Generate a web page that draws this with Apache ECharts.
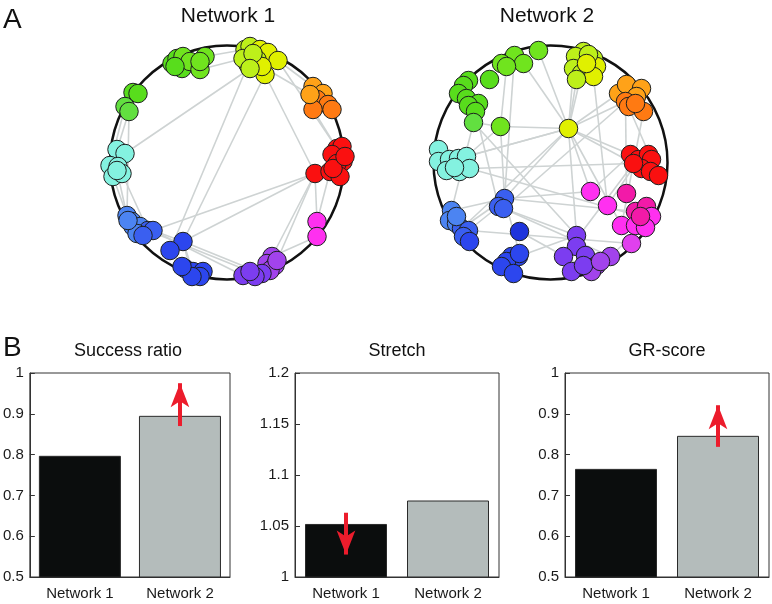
<!DOCTYPE html>
<html><head><meta charset="utf-8">
<script src="https://cdn.jsdelivr.net/npm/echarts@6/dist/echarts.min.js"></script>
<style>html,body{margin:0;padding:0;background:#fff}#c{width:772px;height:604px}</style>
</head><body><div id="c"></div>
<script>
const FONT = '"Liberation Sans", Arial, Helvetica, sans-serif';

// ---------- Panel A data (layout units, circle radius = 117, origin = circle centre) ----------
const networkTitles = ['Network 1', 'Network 2'];
const groupColors = ['#58dd1c','#70e41e','#bdf01a','#e0f000','#ffa218','#ff7a12','#fa1010','#ff30f0',
  '#f21aa8','#a243ec','#7c3df0','#2c46ee','#4c84f2','#84f2e0','#62df40','#3a5ff0','#e040ee','#1e34dc'];

const net1Nodes = [
  [-55,99,0],[-50,104,0],[-44,106,1],[-45,94,0],[-37,101,1],[-27,93,1],[-22,106,1],[-27,101,1],[-52,96,0],
  [18,113,2],[23,116,2],[33,113,3],[41,110,3],[51,102,3],[38,88,3],[21,98,2],[16,104,2],[30,103,2],[35,96,3],[26,109,2],[23,94,2],
  [86,76,4],[96,69,4],[90,63,5],[101,58,5],[86,53,5],[105,53,5],[83,68,4],
  [88,-11,6],[110,14,6],[115,16,6],[105,8,6],[116,1,6],[110,-1,6],[103,-9,6],[113,-14,6],[106,-6,6],[118,6,6],
  [90,-59,7],[90,-74,7],
  [45,-94,9],[40,-101,9],[48,-103,9],[43,-108,9],[35,-111,10],[16,-113,10],[28,-114,10],[23,-109,10],[50,-98,9],
  [-42,-106,11],[-34,-109,11],[-24,-109,11],[-27,-114,11],[-35,-114,11],[-45,-104,11],
  [-44,-79,11],[-57,-88,11],
  [-100,-53,12],[-95,-59,12],[-94,-64,12],[-87,-64,12],[-79,-68,15],[-74,-68,15],[-90,-71,12],[-84,-73,15],[-99,-58,12],
  [-110,13,13],[-102,9,13],[-117,-3,13],[-109,-4,13],[-114,-14,13],[-105,-11,13],[-110,-8,13],
  [-94,70,0],[-89,69,0],[-102,56,14],[-98,51,14]
];
const net1Edges = [
  [20,67],[14,55],[15,56],[14,28],[13,29],[13,21],[18,27],[5,16],[6,9],[76,66],[75,68],[70,57],[72,65],
  [28,62],[28,55],[28,40],[28,38],[34,38],[25,29],[62,45],[61,47],[55,44],[56,49],[55,50],[39,40],[48,28],
  [71,61],[76,57],[62,55],[55,53]
];

const net2Nodes = [
  [-12,112,1],[-36,107,1],[-27,99,1],[-49,99,1],[-44,96,1],[-61,83,0],[-82,82,0],[-87,77,0],[-92,69,0],[-84,64,0],
  [-72,59,0],[-82,57,0],[-75,51,0],[-77,40,14],[-50,36,1],
  [33,111,2],[25,106,2],[43,104,2],[46,96,3],[23,94,2],[31,89,2],[43,86,3],[26,83,2],[38,108,2],[36,99,3],
  [18,34,3],
  [68,69,4],[76,78,4],[91,74,4],[86,66,4],[75,61,5],[78,56,5],[93,51,5],[85,59,5],
  [80,8,6],[88,3,6],[98,8,6],[101,3,6],[91,-6,6],[100,-9,6],[108,-13,6],[83,-1,6],
  [40,-29,7],[57,-43,7],[76,-31,8],[85,-49,8],[96,-44,8],[101,-54,7],[71,-63,7],[85,-63,7],[95,-65,7],[90,-54,8],[81,-81,16],
  [26,-73,10],[26,-84,10],[35,-93,10],[13,-94,10],[60,-94,9],[46,-103,9],[21,-109,10],[41,-109,9],[33,-103,10],[50,-99,9],
  [-39,-94,11],[-32,-94,11],[-44,-99,11],[-49,-104,11],[-37,-111,11],[-31,-91,11],
  [-31,-69,17],
  [-46,-36,15],[-52,-44,15],[-47,-46,15],
  [-99,-48,12],[-101,-58,12],[-94,-61,12],[-89,-66,15],[-82,-68,15],[-87,-74,15],[-81,-79,11],[-94,-54,12],
  [-112,13,13],[-112,1,13],[-101,3,13],[-104,-8,13],[-92,4,13],[-84,6,13],[-91,-9,13],[-81,-6,13],[-96,-5,13]
];
const net2Edges = [
  [25,14],[25,0],[25,22],[25,19],[25,20],[25,26],[25,30],[25,34],[25,41],[25,42],[25,53],[25,70],[25,86],[25,76],[25,48],
  [14,13],[14,70],[14,86],[4,14],[2,25],[1,70],[12,71],[88,41],[85,25],[73,70],[76,70],[77,71],[70,45],[70,42],[72,57],
  [71,53],[69,60],[64,53],[68,70],[42,34],[43,35],[44,30],[48,32],[53,13],[31,37],[21,43],[30,72],[13,73],[88,51],
  [77,52],[56,41],[57,47]
];

// ---------- Panel B data ----------
const barCategories = ['Network 1', 'Network 2'];
const chartTitles = ['Success ratio', 'Stretch', 'GR-score'];
const successRatio = [0.797, 0.895];
const stretchValues = [1.052, 1.075];
const grScore = [0.765, 0.846];
const successAxis = [0.5, 1, 0.1];
const stretchAxis = [1, 1.2, 0.05];
const grAxis = [0.5, 1, 0.1];
// red arrows: [category, tail value, tip value]
const successArrow = ['Network 2', 0.870, 0.975];
const stretchArrow = ['Network 1', 1.063, 1.022];
const grArrow = ['Network 2', 0.819, 0.921];

// ---------- build ----------
const barColors = ['#0b0d0d', '#b4bcbb'];
const chart = echarts.init(document.getElementById('c'), null, {renderer: 'canvas'});

const netCenters = [[227, 162.5], [550.5, 162.5]];
const half = 130;
const grids = [], xAxes = [], yAxes = [], series = [];
netCenters.forEach((c, i) => {
  grids.push({left: c[0] - half, top: c[1] - half, width: 2 * half, height: 2 * half, show: false});
  xAxes.push({type: 'value', gridIndex: i, min: -half, max: half, show: false});
  yAxes.push({type: 'value', gridIndex: i, min: -half, max: half, show: false});
});
[[net1Nodes, net1Edges], [net2Nodes, net2Edges]].forEach(([nodes, edges], i) => {
  series.push({
    type: 'lines', coordinateSystem: 'cartesian2d', xAxisIndex: i, yAxisIndex: i, silent: true, z: 1,
    lineStyle: {color: '#ced3d3', width: 1.6, opacity: 1},
    data: edges.map(([a, b]) => ({coords: [nodes[a].slice(0, 2), nodes[b].slice(0, 2)]}))
  });
  series.push({
    type: 'scatter', xAxisIndex: i, yAxisIndex: i, symbolSize: 18.5, z: 3, silent: true,
    itemStyle: {color: p => groupColors[p.data[2]], borderColor: '#1c1f1f', borderWidth: 1, opacity: 1},
    data: nodes
  });
});

const barSpecs = [
  [successRatio, successAxis, successArrow, 26],
  [stretchValues, stretchAxis, stretchArrow, 295],
  [grScore, grAxis, grArrow, 565]
];
barSpecs.forEach(([vals, ax, arrow, left], k) => {
  const gi = 2 + k;
  grids.push({left: left, top: 373, width: 204, height: 204, show: true, borderColor: '#333', borderWidth: 1, backgroundColor: 'transparent'});
  xAxes.push({type: 'category', gridIndex: gi, data: barCategories,
    axisLine: {show: true, lineStyle: {color: '#333'}}, axisTick: {show: false},
    axisLabel: {fontSize: 15, color: '#1a1a1a', fontFamily: FONT, margin: 9}});
  yAxes.push({type: 'value', gridIndex: gi, min: ax[0], max: ax[1], interval: ax[2],
    axisLine: {show: true, lineStyle: {color: '#333'}},
    axisTick: {show: true, inside: true, length: 5, lineStyle: {color: '#333'}},
    splitLine: {show: false},
    axisLabel: {fontSize: 15, color: '#1a1a1a', fontFamily: FONT, margin: 6}});
  series.push({
    type: 'bar', xAxisIndex: gi, yAxisIndex: gi, barWidth: 82, silent: true,
    data: vals.map((v, i) => ({value: v, itemStyle: {color: barColors[i], borderColor: '#2a2a2a', borderWidth: 1}})),
    markLine: {
      silent: true, symbol: ['none', 'arrow'], symbolSize: [14, 24],
      label: {show: false}, lineStyle: {color: '#ec1c2c', width: 4, type: 'solid'},
      emphasis: {disabled: true},
      data: [[{coord: [barCategories.indexOf(arrow[0]), arrow[1]]}, {coord: [barCategories.indexOf(arrow[0]), arrow[2]]}]]
    }
  });
});

const titles = [
  {text: 'A', left: 3, top: 6, textStyle: {fontSize: 28}},
  {text: 'B', left: 3, top: 334, textStyle: {fontSize: 28}},
  {text: networkTitles[0], left: 228, top: 6, textAlign: 'center', textStyle: {fontSize: 21}},
  {text: networkTitles[1], left: 547, top: 6, textAlign: 'center', textStyle: {fontSize: 21}},
  {text: chartTitles[0], left: 128, top: 342, textAlign: 'center', textStyle: {fontSize: 18}},
  {text: chartTitles[1], left: 397, top: 342, textAlign: 'center', textStyle: {fontSize: 18}},
  {text: chartTitles[2], left: 667, top: 342, textAlign: 'center', textStyle: {fontSize: 18}}
];
titles.forEach(t => { t.padding = 0; Object.assign(t.textStyle, {fontWeight: 'normal', fontFamily: FONT, color: '#111'}); });

chart.setOption({
  animation: false,
  backgroundColor: '#fff',
  title: titles,
  grid: grids,
  xAxis: xAxes,
  yAxis: yAxes,
  polar: netCenters.map(c => ({center: c, radius: 117})),
  angleAxis: netCenters.map((c, i) => ({polarIndex: i, min: 0, max: 360, z: 0,
    axisLine: {show: true, lineStyle: {color: '#111', width: 2.5}},
    axisTick: {show: false}, axisLabel: {show: false}, splitLine: {show: false}})),
  radiusAxis: netCenters.map((c, i) => ({polarIndex: i, show: false, splitLine: {show: false}})),
  series: series
});
</script></body></html>
